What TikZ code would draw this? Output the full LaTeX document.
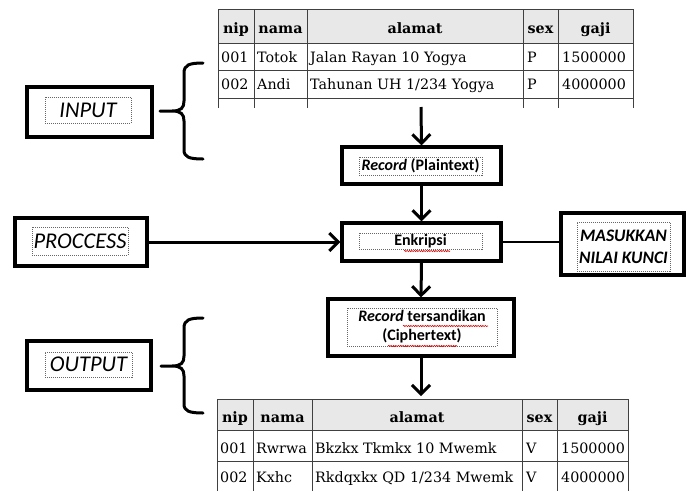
\documentclass[tikz,border=0pt]{standalone}
\usepackage{fontspec}
\setmainfont{DejaVu Serif}
\newfontfamily\lab{Carlito}
\usetikzlibrary{arrows.meta,decorations.pathmorphing}

\tikzset{
  boxframe/.style={draw=black, line width=3.2pt, inner sep=0pt},
  txtframe/.style={draw=black!60, line width=0.7pt, dash pattern=on 1pt off 1pt,
                   inner sep=0pt, align=center},
  flow/.style={line width=3pt, -{Straight Barb[length=9pt,width=18pt]}},
  link/.style={line width=2.6pt},
  gridline/.style={draw=black!75, line width=1pt},
  hdr/.style={font=\fontsize{14.3}{16}\selectfont\bfseries, anchor=base, inner sep=0pt},
  cell/.style={font=\fontsize{14.3}{16}\selectfont, anchor=base west, inner sep=0pt},
  bracestroke/.style={line width=3pt, line cap=round, line join=round},
  squiggle/.style={draw=red!85!black, line width=0.6pt, decorate,
                   decoration={snake, amplitude=0.6pt, segment length=2.4pt}},
  bigit/.style={font=\lab\fontsize{22.5}{24}\selectfont\itshape},
  flowtxt/.style={font=\lab\fontsize{16}{19}\selectfont\bfseries},
}

\begin{document}
\begin{tikzpicture}[x=1pt,y=-1pt]
\useasboundingbox (0,0) rectangle (688,491);

% ---------- source table ----------
\fill[black!9] (218,9) rectangle (633,43);
\draw[gridline] (218,9) -- (633,9);
\foreach \yy in {43,70,98} \draw[gridline] (218,\yy) -- (633,\yy);
\foreach \xx in {218,254,307,523,558,633} \draw[gridline] (\xx,9) -- (\xx,108);

\node[hdr] (ha1) at (236,33)   {nip};
\node[hdr] (ha2) at (280.5,33) {nama};
\node[hdr] (ha3) at (415,33)   {alamat};
\node[hdr] (ha4) at (540.5,33) {sex};
\node[hdr] (ha5) at (595.5,33) {gaji};

\node[cell] (a11) at (221,62) {001};
\node[cell] (a12) at (257,62) {Totok};
\node[cell] (a13) at (310,62) {Jalan Rayan 10 Yogya};
\node[cell] (a14) at (527,62) {P};
\node[cell] (a15) at (562,62) {1500000};
\node[cell] (a21) at (221,89) {002};
\node[cell] (a22) at (257,89) {Andi};
\node[cell] (a23) at (310,89) {Tahunan UH 1/234 Yogya};
\node[cell] (a24) at (527,89) {P};
\node[cell] (a25) at (562,89) {4000000};

% ---------- encrypted table ----------
\fill[black!9] (217,399) rectangle (628,430);
\foreach \yy in {399,430,461} \draw[gridline] (217,\yy) -- (628,\yy);
\foreach \xx in {217,253,312,522,557,628} \draw[gridline] (\xx,399) -- (\xx,491);

\node[hdr] (hb1) at (235,422)   {nip};
\node[hdr] (hb2) at (282.5,422) {nama};
\node[hdr] (hb3) at (417,422)   {alamat};
\node[hdr] (hb4) at (539.5,422) {sex};
\node[hdr] (hb5) at (592.5,422) {gaji};

\node[cell] (b11) at (220,453) {001};
\node[cell] (b12) at (256,453) {Rwrwa};
\node[cell] (b13) at (315,453) {Bkzkx Tkmkx 10 Mwemk};
\node[cell] (b14) at (526,453) {V};
\node[cell] (b15) at (561,453) {1500000};
\node[cell] (b21) at (220,482) {002};
\node[cell] (b22) at (256,482) {Kxhc};
\node[cell] (b23) at (315,482) {Rkdqxkx QD 1/234 Mwemk};
\node[cell] (b24) at (526,482) {V};
\node[cell] (b25) at (561,482) {4000000};

% ---------- flow boxes ----------
\node[boxframe, minimum width=159, minimum height=37] (rec) at (421.5,165.5) {};
\node[txtframe, minimum width=123, minimum height=18, flowtxt] (recT) at (420.5,166)
  {\textit{Record} (Plaintext)};

\node[boxframe, minimum width=159, minimum height=38] (enk) at (421.5,242) {};
\node[txtframe, minimum width=123, minimum height=16, flowtxt] (enkT) at (420.5,241)
  {Enkripsi};

\node[boxframe, minimum width=186, minimum height=57] (enc) at (421,327.5) {};
\node[txtframe, minimum width=150, minimum height=38, flowtxt] (encT) at (422,327)
  {\textit{Record} tersandikan\\(Ciphertext)};

\node[boxframe, minimum width=123, minimum height=62] (mas) at (622.5,244) {};
\node[txtframe, minimum width=93, minimum height=49,
      font=\lab\fontsize{17.5}{22}\selectfont\bfseries\itshape] (masT) at (623.5,246.5)
  {MASUKKAN\\NILAI KUNCI};

\node[boxframe, minimum width=125, minimum height=50] (inp) at (89.5,112) {};
\node[txtframe, minimum width=86, minimum height=26, bigit] (inpT) at (88,110) {INPUT};

\node[boxframe, minimum width=132, minimum height=48] (proc) at (81,242) {};
\node[txtframe, minimum width=96, minimum height=28, bigit] (procT) at (80,241) {PROCCESS};

\node[boxframe, minimum width=124, minimum height=49] (outp) at (89,365.5) {};
\node[txtframe, minimum width=87, minimum height=25, bigit] (outpT) at (88.5,364.5) {OUTPUT};

% spelling marks under the Indonesian words
\draw[squiggle] (404,251) -- (450,251);
\draw[squiggle] (403,326) -- (488,326);
\draw[squiggle] (388,346) -- (457,346);

% ---------- connectors ----------
\coordinate (tin)  at (421,107);
\coordinate (tout) at (421,396);
\draw[flow] (tin) -- (rec.north);
\draw[flow] (rec.south) -- (enk.north);
\draw[flow] (enk.south) -- (enc.north);
\draw[flow] (enc.south) -- (tout);
\draw[flow] (proc.east) -- (enk.west);
\draw[link] (enk.east) -- (enk.east -| mas.west);

% ---------- braces ----------
\draw[bracestroke] (203,63) .. controls (189,63) and (184,65) .. (184,73)
  -- (184,101) .. controls (184,108) and (181,111) .. (172,111) -- (160,111)
  -- (172,111) .. controls (181,111) and (184,114) .. (184,121)
  -- (184,150) .. controls (184,157) and (189,159) .. (203,159);
\draw[bracestroke] (203,318) .. controls (189,318) and (184,320) .. (184,328)
  -- (184,356) .. controls (184,363) and (181,366) .. (172,366) -- (161,366)
  -- (172,366) .. controls (181,366) and (184,369) .. (184,376)
  -- (184,404) .. controls (184,411) and (189,413) .. (203,413);
\end{tikzpicture}
\end{document}
